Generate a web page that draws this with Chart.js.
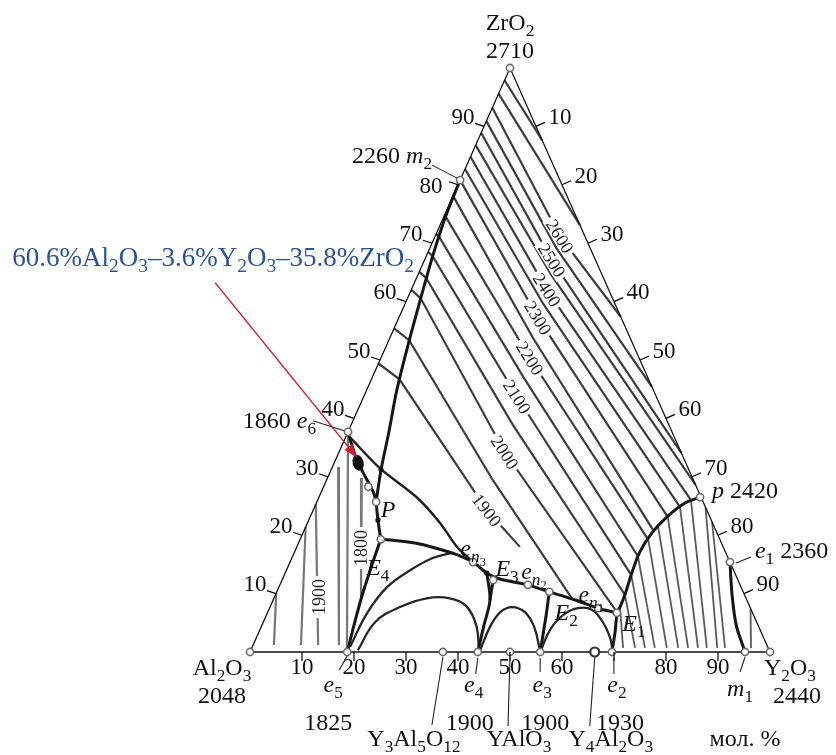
<!DOCTYPE html>
<html>
<head>
<meta charset="utf-8">
<script src="https://cdn.jsdelivr.net/npm/chart.js@4.4.0/dist/chart.umd.min.js"></script>
<style>
  html, body { margin: 0; padding: 0; background: #fff; }
  canvas { display: block; }
</style>
</head>
<body>
<canvas id="diagram" width="836" height="755"></canvas>
<script>
// all compositions are [Y2O3 mol.%, ZrO2 mol.%], Al2O3 is the rest

const tickValues = [10, 20, 30, 40, 50, 60, 70, 80, 90];
const baseTickText = ["10", "20", "30", "40", "50", "60", "", "80", "90"];

// isotherms in the ZrO2 field (left edge -> kink -> ... -> end)
const zrTemps = [2700, 2650, 2600, 2550, 2500, 2450, 2400, 2350, 2300, 2250, 2200, 2150, 2100, 2050, 2000, 1950, 1900];
const zrIsotherms = [
  [[0, 97.9], [12.4, 87.6]],
  [[0, 95.6], [26.9, 73.1]],
  [[0, 93.2], [24.0, 71.2], [42.6, 57.4]],
  [[0, 90.9], [24.3, 69.2], [54.6, 45.4]],
  [[0, 88.9], [24.5, 67.1], [65.9, 34.1]],
  [[0, 86.8], [25.6, 64.6], [71.4, 28.6]],
  [[0, 84.8], [26.1, 62.0], [71.8, 26.0]],
  [[0, 82.7], [26.6, 59.6], [70.3, 24.8]],
  [[0, 80.8], [26.8, 57.2], [68.8, 23.1]],
  [[0, 78.1], [27.5, 53.8], [67.3, 20.7]],
  [[0, 74.8], [0.4, 74.5], [28.7, 50.3], [67.0, 19.2]],
  [[0, 71.6], [0.8, 71.1], [29.0, 47.1], [66.4, 16.4]],
  [[0, 68.5], [1.2, 67.8], [29.5, 43.7], [66.7, 13.2]],
  [[0, 65.1], [1.9, 64.0], [31.1, 38.9], [67.2, 9.8]],
  [[0, 62.0], [2.5, 60.6], [31.9, 34.2], [67.2, 6.8]],
  [[0, 55.4], [3.9, 53.4], [31.9, 29.5], [57.3, 9.2]],
  [[0, 49.4], [5.4, 46.7], [33.4, 24.3], [42.9, 18.0]]
];
const zrLabelTemps = [2600, 2500, 2400, 2300, 2200, 2100, 2000, 1900];
const zrLabelAt = [[24.0, 71.2], [24.5, 67.1], [26.1, 62.0], [26.8, 57.2], [28.7, 50.3], [29.5, 43.7], [31.9, 34.2], [33.4, 24.3]];

// isotherms below the p-E1 curve
const yIsotherms = [
  [[67.3, 7.7], [71.4, 0.7]],
  [[67.2, 9.8], [73.7, 0.7]],
  [[66.7, 13.2], [75.6, 0.7]],
  [[66.4, 16.4], [77.5, 0.7]],
  [[67.0, 19.2], [79.8, 0.7]],
  [[67.8, 21.4], [82.0, 0.7]],
  [[68.8, 23.1], [83.9, 0.7]],
  [[70.3, 24.8], [85.8, 0.7]],
  [[71.8, 26.0], [87.5, 0.7]],
  [[75.2, 24.8], [89.5, 0.7]],
  [[77.7, 22.3], [91.0, 0.7]],
  [[92.5, 7.5], [96.0, 0.7]]
];

// isotherms in the Al2O3 field
const alIsotherms = [
  [[0, 10.1], [4.0, 1.2]],
  [[0, 21.4], [9.2, 1.2]],
  [[0, 25.3], [12.5, 1.2]],
  [[1.1, 31.7], [16.5, 1.2]],
  [[0, 37.7], [18.5, 0.3]],
  [[6.6, 29.8], [16.9, 8.9]]
];
const alLabelTemps = [1900, 1800];
const alLabelAt = [[8.6, 9.4], [12.4, 17.8]];

// monovariant curves
const curveM2P = [[0, 80.8], [0.3, 74.8], [1.2, 68.0], [2.6, 60.3], [4.1, 52.6], [5.8, 44.9], [8.0, 37.2], [9.6, 31.2], [11.4, 25.7]];
const curveE6P = [[0, 37.7], [1.9, 35.4], [4.1, 32.9], [6.3, 30.8], [8.4, 28.9], [10.2, 27.2], [11.4, 25.7]];
const curvePE4 = [[11.4, 25.7], [13.3, 22.6], [15.5, 19.3]];
const curveE4E1 = [[15.5, 19.3], [19.3, 19.0], [23.4, 18.5], [27.7, 17.6], [31.7, 16.6], [35.2, 15.4], [38.8, 13.5], [41.8, 12.5], [47.7, 11.5], [52.4, 10.3], [58.1, 8.9], [63.2, 7.5], [67.2, 6.7]];
const curveE4e5 = [[15.5, 19.3], [16.0, 14.9], [16.7, 9.8], [17.7, 4.6], [18.7, 0]];
const curveE3e4 = [[38.8, 13.5], [41.7, 8.9], [42.7, 4.6], [43.8, 0]];
const curveE3b = [[40.6, 12.3], [41.7, 8.9]];
const curveE2e3 = [[52.4, 10.3], [53.8, 6.3], [55.8, 0]];
const curveE1e2 = [[67.2, 6.7], [68.5, 3.4], [69.6, 0]];
const curvePE1 = [[73.3, 26.5], [70.9, 25.5], [68.6, 23.1], [67.1, 20.4], [66.4, 17.1], [66.7, 13.2], [67.2, 9.8], [67.3, 7.7], [67.2, 6.7]];
const curveE1m1 = [[84.6, 15.4], [87.8, 9.8], [91.2, 4.6], [95.2, 0]];
const curveE6en3 = [[0.8, 36.8], [9.2, 31.5], [18.8, 26.5], [25.5, 22.1], [30.8, 18.0], [35.2, 15.4]];

// liquidus domes of the compounds
const domes = [
  [[18.8, 0.9], [19.2, 6.7], [20.8, 11.1], [23.8, 14.0], [27.1, 16.1], [30.6, 17.0]],
  [[20.6, 0.3], [21.5, 5.1], [25.0, 7.7], [29.4, 9.2], [33.8, 9.2], [37.6, 7.9], [41.2, 4.6], [43.9, 0.3]],
  [[44.1, 0.3], [44.0, 4.3], [44.7, 6.8], [46.5, 7.7], [49.5, 6.8], [52.5, 4.3], [55.6, 0.3]],
  [[55.8, 0.3], [55.8, 3.8], [56.9, 6.2], [59.3, 7.5], [62.2, 7.2], [65.3, 5.1], [67.9, 2.6], [69.6, 0.3]]
];

// points
const apex = [0, 100], alCorner = [0, 0], yCorner = [100, 0];
const ptM2 = [0, 80.8], ptE6 = [0, 37.7], ptp = [73.3, 26.5], ptE1s = [84.6, 15.4];
const ptM1 = [95.2, 0], pte2 = [69.6, 0], ptY4 = [66.3, 0], pte3 = [55.8, 0], ptYAlO3 = [50, 0];
const pte4 = [43.8, 0], ptYAG = [37.1, 0], pte5 = [18.7, 0];
const ptP = [11.4, 25.7], ptE4 = [15.5, 19.3], ptEn3 = [35.2, 15.4], ptE3 = [40.6, 12.3];
const ptEn2 = [47.7, 11.5], ptE2 = [52.4, 10.3], ptEn1 = [63.2, 7.5], ptE1 = [67.2, 6.7];
const openPoints = [apex, alCorner, yCorner, ptM2, ptE6, ptp, ptE1s, ptM1, pte2, pte3, ptYAlO3, pte4, ptYAG, pte5,
  ptP, [8.6, 28.3], ptE4, ptEn3, ptE3, ptEn2, ptE2, ptEn1, ptE1];
const darkDots = [[13.3, 22.6], [38.8, 13.5], [9.6, 31.2]];
const samplePoint = [4.6, 32.4];
const sampleText = "60.6%Al_2O_3\u20133.6%Y_2O_3\u201335.8%ZrO_2";

// texts: [text, anchor, dx, dy, align]
const pointLabels = [
  ["ZrO_2", apex, 0, -46, "center"],
  ["2710", apex, 0, -18, "center"],
  ["Al_2O_3", alCorner, -28, 15, "center"],
  ["2048", alCorner, -28, 43, "center"],
  ["Y_2O_3", yCorner, 20, 15, "center"],
  ["2440", yCorner, 27, 43, "center"],
  ["\u043c\u043e\u043b. %", yCorner, -25, 86, "center"],
  ["2260 *m*_2", ptM2, -28, -25, "right"],
  ["1860 *e*_6", ptE6, -32, -12, "right"],
  ["*p* 2420", ptp, 12, -7, "left"],
  ["*e*_1 2360", ptE1s, 25, -12, "left"],
  ["*P*", ptP, 12, 7, "center"],
  ["*E*_4", ptE4, -3, 28, "center"],
  ["*e*_{*n*_3}", ptEn3, 0, -14, "center"],
  ["*E*_3", ptE3, 14, -12, "center"],
  ["*e*_{*n*_2}", ptEn2, 6, -14, "center"],
  ["*e*_{*n*_1}", ptEn1, -7, -14, "center"],
  ["*E*_2", ptE2, 17, 20, "center"],
  ["*E*_1", ptE1, 17, 10, "center"],
  ["*e*_5", pte5, -14, 32, "center"],
  ["1825", pte5, -19, 70, "center"],
  ["*e*_4", pte4, -4, 32, "center"],
  ["1900", pte4, -8, 70, "center"],
  ["*e*_3", pte3, 2, 32, "center"],
  ["1900", pte3, 5, 70, "center"],
  ["*e*_2", pte2, 5, 32, "center"],
  ["1930", pte2, 8, 70, "center"],
  ["*m*_1", ptM1, -5, 36, "center"],
  ["Y_3Al_5O_{12}", ptYAG, -29, 86, "center"],
  ["YAlO_3", ptYAlO3, 9, 86, "center"],
  ["Y_4Al_2O_3", ptY4, 16, 86, "center"]
];
// leader lines: [anchor, dx1, dy1, dx2, dy2]
const leaders = [
  [ptM2, -3, -2, -28, -15],
  [ptE6, -4, -1, -35, -11],
  [ptE1s, 6, 1, 21, -5],
  [pte5, 0, 4, -8, 18],
  [pte4, 0, 6, -2, 22],
  [pte3, 0, 6, 0, 20],
  [pte2, 2, 6, 2, 22],
  [ptM1, 0, 5, -5, 20],
  [ptYAG, 0, 5, -11, 73],
  [ptYAlO3, 0, 5, -2, 74],
  [ptY4, 0, 5, -5, 74]
];

const serif = '"Liberation Serif", "DejaVu Serif", serif';

function toXY(p) {
  return { x: p[0] + p[1] / 2, y: p[1] };
}

function lineSet(points, color, width, order, tension) {
  return {
    data: points.map(toXY),
    showLine: true,
    borderColor: color,
    borderWidth: width,
    pointRadius: 0,
    tension: tension || 0,
    fill: false,
    clip: false,
    order: order
  };
}

function parseRich(s) {
  const runs = [];
  let italic = false;
  const walk = (str, level) => {
    let i = 0;
    while (i < str.length) {
      const c = str[i];
      if (c === "*") { italic = !italic; i++; continue; }
      if (c === "_") {
        i++;
        if (str[i] === "{") {
          let depth = 1, j = i + 1;
          while (depth > 0 && j < str.length) {
            if (str[j] === "{") depth++;
            else if (str[j] === "}") depth--;
            j++;
          }
          walk(str.slice(i + 1, j - 1), level + 1);
          i = j;
        } else {
          walk(str[i], level + 1);
          i++;
        }
        continue;
      }
      const last = runs[runs.length - 1];
      if (last && last.level === level && last.italic === italic) last.text += c;
      else runs.push({ text: c, level: level, italic: italic });
      i++;
    }
  };
  walk(s, 0);
  return runs;
}

function drawRich(ctx, str, x, y, size, align, color) {
  const runs = parseRich(str);
  let total = 0;
  runs.forEach((r) => {
    r.size = size * Math.pow(0.72, r.level);
    r.font = (r.italic ? "italic " : "") + r.size.toFixed(1) + "px " + serif;
    ctx.font = r.font;
    r.w = ctx.measureText(r.text).width;
    total += r.w;
  });
  let cx = align === "left" ? x : align === "right" ? x - total : x - total / 2;
  const base = y + size * 0.34;
  ctx.fillStyle = color;
  ctx.textAlign = "left";
  ctx.textBaseline = "alphabetic";
  runs.forEach((r) => {
    let shift = 0;
    for (let l = 1; l <= r.level; l++) shift += size * Math.pow(0.72, l - 1) * 0.24;
    ctx.font = r.font;
    ctx.fillText(r.text, cx, base + shift);
    cx += r.w;
  });
  return total;
}

const overlay = {
  id: "overlay",
  afterDatasetsDraw(chart) {
    const ctx = chart.ctx;
    const sx = chart.scales.x, sy = chart.scales.y;
    const px = (p) => [sx.getPixelForValue(p[0] + p[1] / 2), sy.getPixelForValue(p[1])];
    ctx.save();

    // ticks and tick labels
    ctx.strokeStyle = "#000";
    ctx.lineWidth = 1.2;
    tickValues.forEach((v, i) => {
      const b = px([v, 0]), l = px([0, v]), r = px([v, 100 - v]);
      ctx.beginPath();
      ctx.moveTo(b[0], b[1]); ctx.lineTo(b[0], b[1] + 9);
      ctx.moveTo(l[0], l[1]); ctx.lineTo(l[0] - 9, l[1] - 3);
      ctx.moveTo(r[0], r[1]); ctx.lineTo(r[0] + 9, r[1] - 4);
      ctx.stroke();
      if (baseTickText[i]) drawRich(ctx, baseTickText[i], b[0], b[1] + 14, 23, "center", "#111");
      if (v === 80) drawRich(ctx, String(v), l[0] - 27, l[1], 23, "center", "#111");
      else drawRich(ctx, String(v), l[0] - 21, l[1] - 10, 23, "center", "#111");
      drawRich(ctx, String(v), r[0] + 24, r[1] - 10, 23, "center", "#111");
    });

    // leader lines
    ctx.strokeStyle = "#222";
    ctx.lineWidth = 1.1;
    leaders.forEach((ld) => {
      const a = px(ld[0]);
      ctx.beginPath();
      ctx.moveTo(a[0] + ld[1], a[1] + ld[2]);
      ctx.lineTo(a[0] + ld[3], a[1] + ld[4]);
      ctx.stroke();
    });

    // isotherm labels on white patches
    const rotatedLabel = (text, p, angle, size) => {
      ctx.save();
      ctx.translate(p[0], p[1]);
      ctx.rotate(angle);
      ctx.font = size + "px " + serif;
      const w = ctx.measureText(text).width;
      ctx.fillStyle = "#fff";
      ctx.fillRect(-w / 2 - 3, -size * 0.42, w + 6, size * 0.84);
      drawRich(ctx, text, 0, 0, size, "center", "#222");
      ctx.restore();
    };
    zrLabelTemps.forEach((t, i) => {
      const line = zrIsotherms[zrTemps.indexOf(t)];
      const a = px(line[0]), b = px(line[line.length - 1]);
      rotatedLabel(String(t), px(zrLabelAt[i]), Math.atan2(b[1] - a[1], b[0] - a[0]), 18);
    });
    alLabelTemps.forEach((t, i) => rotatedLabel(String(t), px(alLabelAt[i]), -Math.PI / 2, 18));

    // sample point
    const s = px(samplePoint);
    ctx.fillStyle = "#111";
    ctx.beginPath();
    ctx.ellipse(s[0], s[1], 5.5, 8, -0.25, 0, Math.PI * 2);
    ctx.fill();

    // point labels
    pointLabels.forEach((lb) => {
      const a = px(lb[1]);
      drawRich(ctx, lb[0], a[0] + lb[2], a[1] + lb[3], 24, lb[4], "#111");
    });

    // sample annotation with red arrow
    drawRich(ctx, sampleText, s[0] - 145, s[1] - 206, 27, "center", "#2a5298");
    const x0 = s[0] - 143, y0 = s[1] - 180, x1 = s[0] - 1, y1 = s[1] - 5;
    const ang = Math.atan2(y1 - y0, x1 - x0);
    ctx.strokeStyle = "#cc2233";
    ctx.fillStyle = "#cc2233";
    ctx.lineWidth = 1.3;
    ctx.beginPath();
    ctx.moveTo(x0, y0);
    ctx.lineTo(x1 - 10 * Math.cos(ang), y1 - 10 * Math.sin(ang));
    ctx.stroke();
    ctx.beginPath();
    ctx.moveTo(x1, y1);
    ctx.lineTo(x1 - 14 * Math.cos(ang) + 5 * Math.sin(ang), y1 - 14 * Math.sin(ang) - 5 * Math.cos(ang));
    ctx.lineTo(x1 - 14 * Math.cos(ang) - 5 * Math.sin(ang), y1 - 14 * Math.sin(ang) + 5 * Math.cos(ang));
    ctx.closePath();
    ctx.fill();

    ctx.restore();
  }
};

const datasets = [];
datasets.push({
  data: openPoints.map(toXY), showLine: false, pointRadius: 3.6,
  pointBackgroundColor: "#fff", pointBorderColor: "#6b6b6b", pointBorderWidth: 1.6, clip: false, order: 0
});
datasets.push({
  data: [ptY4].map(toXY), showLine: false, pointRadius: 4.5,
  pointBackgroundColor: "#fff", pointBorderColor: "#333", pointBorderWidth: 2.2, clip: false, order: 0
});
datasets.push({
  data: darkDots.map(toXY), showLine: false, pointRadius: 2.6,
  pointBackgroundColor: "#111", pointBorderColor: "#111", pointBorderWidth: 0, clip: false, order: 0
});
datasets.push(lineSet([alCorner, yCorner, apex, alCorner], "#111", 1.3, 1));
[curveM2P, curveE6P, curvePE4, curveE4E1, curveE4e5, curveE3e4, curveE3b, curveE2e3, curveE1e2, curvePE1, curveE1m1]
  .forEach((c) => datasets.push(lineSet(c, "#161616", 3, 1, 0.3)));
datasets.push(lineSet(curveE6en3, "#1e1e1e", 2.4, 1, 0.3));
domes.forEach((d) => datasets.push(lineSet(d, "#262626", 2.3, 2, 0.4)));
zrIsotherms.forEach((l) => datasets.push(lineSet(l, "#3d3d3d", 2.2, 3)));
yIsotherms.forEach((l) => datasets.push(lineSet(l, "#5a5a5a", 1.8, 3)));
alIsotherms.forEach((l) => datasets.push(lineSet(l, "#777", 2.2, 3)));

new Chart(document.getElementById("diagram"), {
  type: "scatter",
  data: { datasets: datasets },
  options: {
    responsive: false,
    animation: false,
    events: [],
    layout: { padding: { left: 250, right: 66, top: 68, bottom: 103 } },
    scales: {
      x: { type: "linear", min: 0, max: 100, display: false },
      y: { type: "linear", min: 0, max: 100, display: false }
    },
    plugins: { legend: { display: false }, tooltip: { enabled: false } }
  },
  plugins: [overlay]
});
</script>
</body>
</html>
